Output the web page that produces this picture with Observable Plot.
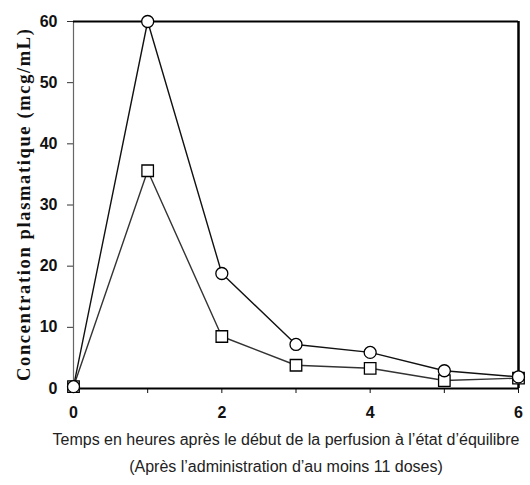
<!DOCTYPE html>
<html>
<head>
<meta charset="utf-8">
<script src="https://cdn.jsdelivr.net/npm/d3@7"></script>
<script src="https://cdn.jsdelivr.net/npm/@observablehq/plot@0.6"></script>
<style>
  body { margin: 0; background: white; }
</style>
</head>
<body>
<div id="chart"></div>
<script>
const hours = [0, 1, 2, 3, 4, 5, 6];
const circleSeries = [0.3, 60, 18.8, 7.2, 5.9, 2.9, 1.9];
const squareSeries = [0.3, 35.6, 8.5, 3.8, 3.3, 1.3, 1.7];
const yTicks = [0, 10, 20, 30, 40, 50, 60];
const xTicks = [0, 1, 2, 3, 4, 5, 6];
const xLabeled = [0, 2, 4, 6];
const yTitle = "Concentration plasmatique (mcg/mL)";
const xTitle = "Temps en heures après le début de la perfusion à l’état d’équilibre\n(Après l’administration d’au moins 11 doses)";

const circles = hours.map((t, i) => ({t, v: circleSeries[i]}));
const squares = hours.map((t, i) => ({t, v: squareSeries[i]}));

const chart = Plot.plot({
  width: 530,
  height: 485,
  marginLeft: 73,
  marginRight: 12,
  marginTop: 21,
  marginBottom: 97,
  style: {fontFamily: "Liberation Sans", fontSize: "15px", background: "white", color: "#111"},
  x: {domain: [0, 6]},
  y: {domain: [0, 60]},
  marks: [
    Plot.axisY({ticks: yTicks, tickSize: 6, tickPadding: 10, label: null, fontWeight: "bold", fontSize: 16, stroke: "#333"}),
    Plot.axisY({ticks: [], label: yTitle, labelAnchor: "center", labelArrow: "none", labelOffset: 57,
      fontFamily: "Liberation Serif", fontWeight: "bold", fontSize: 18.5}),
    Plot.axisX({ticks: xTicks, tickFormat: d => xLabeled.includes(d) ? String(d) : "", tickSize: 5, tickPadding: 13, label: null, fontWeight: "bold", fontSize: 16}),
    Plot.ruleX([0], {stroke: "#666", strokeWidth: 1.2}),
    Plot.ruleX([6], {stroke: "#000", strokeWidth: 2.5}),
    Plot.ruleY([0], {stroke: "#000", strokeWidth: 2}),
    Plot.ruleY([60], {stroke: "#000", strokeWidth: 2.2}),
    Plot.line(squares, {x: "t", y: "v", stroke: "#333", strokeWidth: 1.4}),
    Plot.line(circles, {x: "t", y: "v", stroke: "#111", strokeWidth: 1.4}),
    Plot.dot(squares, {x: "t", y: "v", symbol: "square", r: 6.5, fill: "white", stroke: "#000", strokeWidth: 1.3}),
    Plot.dot(circles, {x: "t", y: "v", symbol: "circle", r: 6, fill: "white", stroke: "#000", strokeWidth: 1.3}),
    Plot.text([xTitle], {frameAnchor: "bottom", lineAnchor: "top", dy: 38, dx: -10, fontSize: 16, lineHeight: 1.65,
      fontFamily: "Liberation Sans", fill: "#222"})
  ]
});

document.getElementById("chart").appendChild(chart);
const yl = d3.select(chart).select('g[aria-label="y-axis label"] text');
yl.attr("textLength", 352).attr("lengthAdjust", "spacing");
</script>
</body>
</html>
